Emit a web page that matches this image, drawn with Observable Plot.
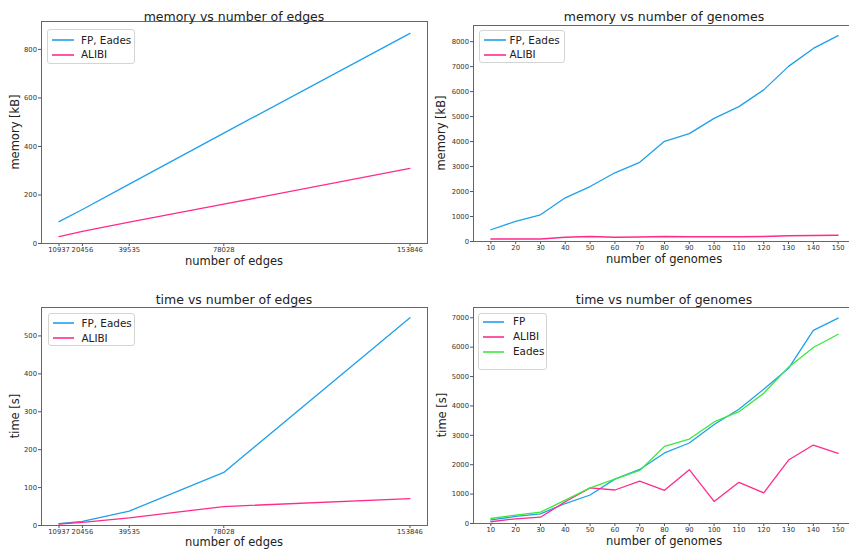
<!DOCTYPE html>
<html>
<head>
<meta charset="utf-8">
<script src="https://cdn.jsdelivr.net/npm/d3@7"></script>
<script src="https://cdn.jsdelivr.net/npm/@observablehq/plot@0.6"></script>
<style>
  html, body { margin: 0; padding: 0; background: #fff; }
  #wrap { position: relative; width: 849px; height: 549px; overflow: hidden; background: #fff; font-family: "DejaVu Sans", sans-serif; }
  #wrap svg { position: absolute; }
  .lbl { position: absolute; white-space: nowrap; color: #222; transform: translate(-50%, -50%); line-height: 1; }
  .ttl { font-size: 12.5px; }
  .axl { font-size: 11.5px; }
  .ylab { transform: translate(-50%, -50%) rotate(-90deg); }
  .legend { position: absolute; border: 1px solid #d4d4d4; border-radius: 3px; background: rgba(255,255,255,0.85); box-sizing: border-box; }
  .legend .row { position: absolute; font-size: 10.4px; color: #222; line-height: 1; white-space: nowrap; }
  .legend .sw { position: absolute; height: 2px; opacity: 0.8; }
</style>
</head>
<body>
<div id="wrap"></div>
<script>
// ---- data ----
const edges = [10937, 20456, 39535, 78028, 153846];
const memEdgesFPEades = [90, 140, 245, 455, 866];
const memEdgesALIBI = [28, 50, 88, 162, 310];
const timeEdgesFPEades = [5, 11, 38, 140, 548];
const timeEdgesALIBI = [4, 8, 20, 50, 71];

const genomes = [10, 20, 30, 40, 50, 60, 70, 80, 90, 100, 110, 120, 130, 140, 150];
const memGenomesFPEades = [470, 810, 1070, 1750, 2200, 2750, 3170, 4010, 4320, 4930, 5400, 6070, 7010, 7730, 8240];
const memGenomesALIBI = [100, 100, 100, 170, 200, 170, 180, 200, 190, 190, 190, 200, 230, 240, 250];
const timeGenomesFP = [120, 240, 330, 680, 970, 1510, 1840, 2400, 2740, 3370, 3890, 4570, 5280, 6570, 6990];
const timeGenomesALIBI = [60, 160, 215, 740, 1210, 1140, 1440, 1130, 1830, 750, 1400, 1040, 2160, 2670, 2390];
const timeGenomesEades = [170, 285, 385, 795, 1215, 1510, 1805, 2625, 2875, 3455, 3805, 4430, 5320, 5990, 6440];

const edgeTicks = edges;
const memEdgeTicks = [0, 200, 400, 600, 800];
const timeEdgeTicks = [0, 100, 200, 300, 400, 500];
const genomeTicks = genomes;
const memGenomeTicks = [0, 1000, 2000, 3000, 4000, 5000, 6000, 7000, 8000];
const timeGenomeTicks = [0, 1000, 2000, 3000, 4000, 5000, 6000, 7000];

const BLUE = "#1fa0ec", PINK = "#ff2a8c", GREEN = "#3ce83c";

const wrap = document.getElementById("wrap");

function panel({left, top, width, height, mL, mR, mT, mB, xDomain, xTicks, yDomain, yTicks, series, xs}) {
  const marks = [
    Plot.axisX({ticks: xTicks, tickFormat: d => String(d), tickSize: 3, tickPadding: 0.5, fontSize: 6.8, stroke: "#555", fill: "#333", label: null}),
    Plot.axisY({ticks: yTicks, tickFormat: d => String(d), tickSize: 3, tickPadding: 1.5, fontSize: 6.8, stroke: "#555", fill: "#333", label: null}),
  ];
  for (const s of series) {
    marks.push(Plot.line(s.values, {x: (d, i) => xs[i], y: d => d, stroke: s.color, strokeWidth: 1.3}));
  }
  marks.push(Plot.frame({stroke: "#666", strokeWidth: 1}));
  const svg = Plot.plot({
    width, height,
    marginLeft: mL, marginRight: mR, marginTop: mT, marginBottom: mB,
    x: {type: "linear", domain: xDomain},
    y: {type: "linear", domain: yDomain},
    style: {background: "transparent", fontFamily: "DejaVu Sans, sans-serif", overflow: "visible", maxWidth: "none", color: "#333"},
    marks
  });
  svg.style.left = left + "px";
  svg.style.top = top + "px";
  wrap.appendChild(svg);
}

function label(text, x, y, cls) {
  const d = document.createElement("div");
  d.className = "lbl " + cls;
  d.textContent = text;
  d.style.left = x + "px";
  d.style.top = y + "px";
  wrap.appendChild(d);
}

function legend(x0, y0, w, h, items, lineX0, lineX1, textX, rowYs) {
  const box = document.createElement("div");
  box.className = "legend";
  box.style.left = x0 + "px"; box.style.top = y0 + "px";
  box.style.width = w + "px"; box.style.height = h + "px";
  items.forEach((it, i) => {
    const sw = document.createElement("div");
    sw.className = "sw";
    sw.style.left = (lineX0 - x0) + "px";
    sw.style.width = (lineX1 - lineX0) + "px";
    sw.style.top = Math.round(rowYs[i] - y0 - 1) + "px";
    sw.style.background = it.color;
    box.appendChild(sw);
    const t = document.createElement("div");
    t.className = "row";
    t.textContent = it.name;
    t.style.left = (textX - x0) + "px";
    t.style.top = (rowYs[i] - y0 - 5.5) + "px";
    box.appendChild(t);
  });
  wrap.appendChild(box);
}

// top-left: memory vs number of edges
panel({left: 0, top: 0, width: 430, height: 275, mL: 41, mR: 3, mT: 21, mB: 32,
  xDomain: [3792, 160991], xTicks: edgeTicks, yDomain: [0, 915], yTicks: memEdgeTicks, xs: edges,
  series: [{values: memEdgesFPEades, color: BLUE}, {values: memEdgesALIBI, color: PINK}]});
// top-right: memory vs number of genomes
panel({left: 425, top: 0, width: 434, height: 275, mL: 48, mR: 4, mT: 25, mB: 34,
  xDomain: [3, 157], xTicks: genomeTicks, yDomain: [0, 8647], yTicks: memGenomeTicks, xs: genomes,
  series: [{values: memGenomesFPEades, color: BLUE}, {values: memGenomesALIBI, color: PINK}]});
// bottom-left: time vs number of edges
panel({left: 0, top: 275, width: 430, height: 274, mL: 41, mR: 3, mT: 32, mB: 24,
  xDomain: [3792, 160991], xTicks: edgeTicks, yDomain: [0, 575], yTicks: timeEdgeTicks, xs: edges,
  series: [{values: timeEdgesFPEades, color: BLUE}, {values: timeEdgesALIBI, color: PINK}]});
// bottom-right: time vs number of genomes
panel({left: 425, top: 275, width: 434, height: 274, mL: 48, mR: 4, mT: 32, mB: 26,
  xDomain: [3, 157], xTicks: genomeTicks, yDomain: [0, 7350], yTicks: timeGenomeTicks, xs: genomes,
  series: [{values: timeGenomesFP, color: BLUE}, {values: timeGenomesALIBI, color: PINK}, {values: timeGenomesEades, color: GREEN}]});

// titles
label("memory vs number of edges", 234, 17, "ttl");
label("memory vs number of genomes", 664, 17, "ttl");
label("time vs number of edges", 234, 300, "ttl");
label("time vs number of genomes", 664, 300, "ttl");
// axis labels
label("number of edges", 234, 261.5, "axl");
label("number of genomes", 664, 259.5, "axl");
label("number of edges", 234, 542.5, "axl");
label("number of genomes", 664, 541.5, "axl");
label("memory [kB]", 16, 132, "axl ylab");
label("memory [kB]", 442, 133, "axl ylab");
label("time [s]", 16, 416, "axl ylab");
label("time [s]", 443, 415, "axl ylab");

// legends
legend(47, 29, 88, 35, [{name: "FP, Eades", color: BLUE}, {name: "ALIBI", color: PINK}], 51, 73, 80, [39, 53.7]);
legend(479, 30, 86, 33, [{name: "FP, Eades", color: BLUE}, {name: "ALIBI", color: PINK}], 483, 505, 508.5, [39, 53.7]);
legend(48, 313, 87, 33, [{name: "FP, Eades", color: BLUE}, {name: "ALIBI", color: PINK}], 51.5, 73, 80.5, [322.3, 337]);
legend(478, 313, 69, 57, [{name: "FP", color: BLUE}, {name: "ALIBI", color: PINK}, {name: "Eades", color: GREEN}], 482, 503, 512, [320.7, 335.7, 350.7]);
</script>
</body>
</html>
